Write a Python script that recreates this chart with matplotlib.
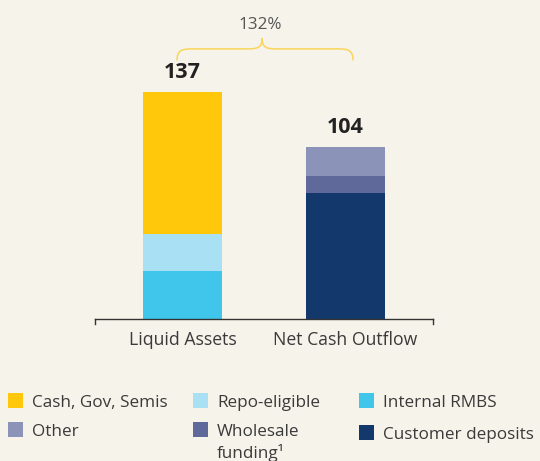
import matplotlib.pyplot as plt
from matplotlib.patches import Rectangle, PathPatch
from matplotlib.path import Path

plt.rcParams['font.family'] = ['Open Sans', 'DejaVu Sans']

# data
categories = ['Liquid Assets', 'Net Cash Outflow']
liquid_segments = ['Cash, Gov, Semis', 'Repo-eligible', 'Internal RMBS']
liquid_values = [86, 22, 29]          # top to bottom
outflow_segments = ['Other', 'Wholesale\nfunding\u00b9', 'Customer deposits']
outflow_values = [18, 10, 76]         # top to bottom
totals = [137, 104]
ratio_label = '132%'

liquid_colors = ['#FFC80A', '#A9E0F3', '#3FC6EA']
outflow_colors = ['#8C93B9', '#5F6A9B', '#13386B']
bg = '#F6F3EB'
text_col = '#3a3a3a'

fig = plt.figure(figsize=(5.4, 4.61), dpi=100, facecolor=bg)
ax = fig.add_axes([0.176, 0.308, 0.626, 0.683])
ax.set_facecolor(bg)
ax.set_xlim(-0.537, 1.537)
ax.set_ylim(0, 190)
bw = 0.485

# stacked bars, drawn bottom up
def stack(x, values, colors):
    bottom = 0
    for v, c in zip(values[::-1], colors[::-1]):
        ax.bar(x, v, bw, bottom=bottom, color=c, linewidth=0)
        bottom += v
    return bottom

for i, (vals, cols) in enumerate([(liquid_values, liquid_colors), (outflow_values, outflow_colors)]):
    top = stack(i, vals, cols)
    ax.text(i, top + 5.5, str(totals[i]), ha='center', va='bottom',
            fontsize=15.5, fontweight='bold', color='#222222')

# baseline with end ticks
xlo, xhi = ax.get_xlim()
ax.plot([xlo, xhi], [0, 0], color='#333333', lw=1, clip_on=False)
for xx in (xlo, xhi):
    ax.plot([xx, xx], [0, -3], color='#333333', lw=1, clip_on=False)

for s in ax.spines.values():
    s.set_visible(False)
ax.set_yticks([])
ax.set_xticks([0, 1])
ax.set_xticklabels(categories, fontsize=12.7, color=text_col)
ax.tick_params(axis='x', length=0, pad=8.5)

# brace between the bars
xl, xr, xm = -0.034, 1.046, 0.488
yb, yh, yp = 156, 163, 169.5
r = 0.09
verts = [(xl, yb), (xl, yh - 1), (xl + r * 0.3, yh), (xl + r, yh),
         (xm - r, yh), (xm - r * 0.25, yh), (xm, yh + 1), (xm, yp),
         (xm, yh + 1), (xm + r * 0.25, yh), (xm + r, yh),
         (xr - r, yh), (xr - r * 0.3, yh), (xr, yh - 1), (xr, yb)]
codes = [Path.MOVETO, Path.CURVE4, Path.CURVE4, Path.CURVE4,
         Path.LINETO, Path.CURVE4, Path.CURVE4, Path.CURVE4,
         Path.CURVE4, Path.CURVE4, Path.CURVE4,
         Path.LINETO, Path.CURVE4, Path.CURVE4, Path.CURVE4]
ax.add_patch(PathPatch(Path(verts, codes), fill=False, edgecolor='#F9D55A', lw=1.1, clip_on=False))
ax.text(xm - 0.01, 177.5, ratio_label, ha='center', va='center', fontsize=12.3, color='#555555')

# legend, drawn by hand in figure pixels
W, H = 540, 461
items = [
    (liquid_segments[0], liquid_colors[0], 8, 401),
    (liquid_segments[1], liquid_colors[1], 193, 401),
    (liquid_segments[2], liquid_colors[2], 359, 401),
    (outflow_segments[0], outflow_colors[0], 8, 430),
    (outflow_segments[1], outflow_colors[1], 193, 430),
    (outflow_segments[2], outflow_colors[2], 359, 433),
]
for label, col, px, py in items:
    fig.patches.append(Rectangle((px / W, 1 - (py + 7) / H), 15 / W, 15 / H,
                                 transform=fig.transFigure, color=col, lw=0))
    fig.text((px + 24) / W, 1 - (py - 6) / H, label, ha='left', va='top',
             fontsize=12.3, color=text_col, linespacing=1.3)

fig.savefig('out.png', dpi=100, facecolor=bg)
